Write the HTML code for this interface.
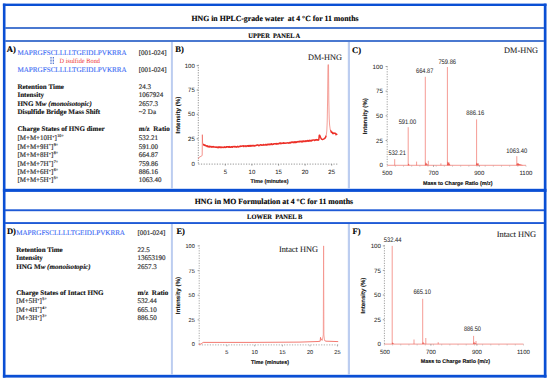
<!DOCTYPE html>
<html><head><meta charset="utf-8"><style>
html,body{margin:0;padding:0;background:#fff;width:550px;height:381px;overflow:hidden;}
svg{display:block;}
</style></head><body>
<svg width="550" height="381" viewBox="0 0 550 381" text-rendering="geometricPrecision">
<rect width="550" height="381" fill="#fff"/>
<rect x="2.9" y="3.6" width="543.6" height="2.4" fill="#0a4fd4"/>
<rect x="2.9" y="3.6" width="2.6" height="374.0" fill="#0a4fd4"/>
<rect x="543.8" y="3.6" width="2.7" height="374.0" fill="#0a4fd4"/>
<rect x="2.9" y="374.8" width="543.6" height="2.8" fill="#0a4fd4"/>
<rect x="2.9" y="188.8" width="543.6" height="3.1" fill="#0a4fd4"/>
<rect x="5" y="27.0" width="539" height="2.0" fill="#4a78d0"/>
<rect x="5" y="40.0" width="539" height="2.0" fill="#4a78d0"/>
<rect x="5" y="209.3" width="539" height="1.9" fill="#1f5ad6"/>
<rect x="5" y="222.1" width="539" height="1.9" fill="#1f5ad6"/>
<rect x="170.9" y="42" width="2.0" height="146.8" fill="#bccdf0"/>
<rect x="347.8" y="42" width="2.2" height="146.8" fill="#bccdf0"/>
<rect x="170.9" y="224" width="2.0" height="150.8" fill="#bccdf0"/>
<rect x="347.8" y="224" width="2.2" height="150.8" fill="#bccdf0"/>
<text x="275" y="21.0" font-family="Liberation Serif" font-size="7.8" font-weight="bold" font-style="normal" fill="#000" text-anchor="middle" textLength="167" lengthAdjust="spacingAndGlyphs" stroke="#000" stroke-width="0.12" >HNG in HPLC-grade water&#160; at 4 °C for 11 months</text>
<text x="274.2" y="37.5" font-family="Liberation Serif" font-size="6.8" font-weight="bold" font-style="normal" fill="#000" text-anchor="middle" textLength="51.8" lengthAdjust="spacingAndGlyphs" stroke="#000" stroke-width="0.12" >UPPER&#160; PANEL A</text>
<text x="273.9" y="203.7" font-family="Liberation Serif" font-size="7.8" font-weight="bold" font-style="normal" fill="#000" text-anchor="middle" textLength="158.3" lengthAdjust="spacingAndGlyphs" stroke="#000" stroke-width="0.12" >HNG in MO Formulation at 4 °C for 11 months</text>
<text x="274.7" y="219.2" font-family="Liberation Serif" font-size="6.9" font-weight="bold" font-style="normal" fill="#000" text-anchor="middle" textLength="55.2" lengthAdjust="spacingAndGlyphs" stroke="#000" stroke-width="0.12" >LOWER&#160; PANEL B</text>
<text x="6.7" y="52.2" font-family="Liberation Serif" font-size="8.6" font-weight="bold" font-style="normal" fill="#000" text-anchor="start" stroke="#000" stroke-width="0.12" >A)</text>
<text x="175.3" y="51.6" font-family="Liberation Serif" font-size="8.6" font-weight="bold" font-style="normal" fill="#000" text-anchor="start" stroke="#000" stroke-width="0.12" >B)</text>
<text x="352.1" y="52.7" font-family="Liberation Serif" font-size="8.6" font-weight="bold" font-style="normal" fill="#000" text-anchor="start" stroke="#000" stroke-width="0.12" >C)</text>
<text x="6.9" y="234.0" font-family="Liberation Serif" font-size="8.6" font-weight="bold" font-style="normal" fill="#000" text-anchor="start" stroke="#000" stroke-width="0.12" >D)</text>
<text x="176.4" y="234.0" font-family="Liberation Serif" font-size="8.6" font-weight="bold" font-style="normal" fill="#000" text-anchor="start" stroke="#000" stroke-width="0.12" >E)</text>
<text x="352.6" y="234.0" font-family="Liberation Serif" font-size="8.6" font-weight="bold" font-style="normal" fill="#000" text-anchor="start" stroke="#000" stroke-width="0.12" >F)</text>
<text x="17.4" y="54.6" font-family="Liberation Serif" font-size="7.2" font-weight="normal" font-style="normal" fill="#3868f4" text-anchor="start" textLength="109.3" lengthAdjust="spacingAndGlyphs" stroke="#3868f4" stroke-width="0.1" >MAPRGFSCLLLLTGEIDLPVKRRA</text>
<text x="138.8" y="54.8" font-family="Liberation Serif" font-size="7" font-weight="normal" font-style="normal" fill="#333" text-anchor="start" textLength="27.8" lengthAdjust="spacingAndGlyphs" stroke="#333" stroke-width="0.18" >[001-024]</text>
<text x="17.4" y="71.9" font-family="Liberation Serif" font-size="7.2" font-weight="normal" font-style="normal" fill="#3868f4" text-anchor="start" textLength="109.3" lengthAdjust="spacingAndGlyphs" stroke="#3868f4" stroke-width="0.1" >MAPRGFSCLLLLTGEIDLPVKRRA</text>
<text x="138.8" y="71.6" font-family="Liberation Serif" font-size="7" font-weight="normal" font-style="normal" fill="#333" text-anchor="start" textLength="27.8" lengthAdjust="spacingAndGlyphs" stroke="#333" stroke-width="0.18" >[001-024]</text>
<rect x="50.45" y="57.0" width="1.1" height="0.9" fill="#2a56c4"/>
<rect x="50.45" y="58.5" width="1.1" height="0.9" fill="#2a56c4"/>
<rect x="50.45" y="60.0" width="1.1" height="0.9" fill="#2a56c4"/>
<rect x="50.45" y="61.5" width="1.1" height="0.9" fill="#2a56c4"/>
<rect x="50.45" y="63.0" width="1.1" height="0.9" fill="#2a56c4"/>
<rect x="52.75" y="57.0" width="1.1" height="0.9" fill="#2a56c4"/>
<rect x="52.75" y="58.5" width="1.1" height="0.9" fill="#2a56c4"/>
<rect x="52.75" y="60.0" width="1.1" height="0.9" fill="#2a56c4"/>
<rect x="52.75" y="61.5" width="1.1" height="0.9" fill="#2a56c4"/>
<rect x="52.75" y="63.0" width="1.1" height="0.9" fill="#2a56c4"/>
<text x="59.5" y="62.5" font-family="Liberation Serif" font-size="6.6" font-weight="normal" font-style="normal" fill="#f04646" text-anchor="start" textLength="40.5" lengthAdjust="spacingAndGlyphs" stroke="#f04646" stroke-width="0.04" >D isulfide Bond</text>
<text x="17.4" y="88.6" font-family="Liberation Serif" font-size="7.05" font-weight="bold" font-style="normal" fill="#111" text-anchor="start" stroke="#111" stroke-width="0.12" >Retention Time</text>
<text x="138.8" y="88.6" font-family="Liberation Serif" font-size="7" font-weight="normal" font-style="normal" fill="#333" text-anchor="start" stroke="#333" stroke-width="0.18" >24.3</text>
<text x="17.4" y="97.13" font-family="Liberation Serif" font-size="7.05" font-weight="bold" font-style="normal" fill="#111" text-anchor="start" stroke="#111" stroke-width="0.12" >Intensity</text>
<text x="138.8" y="97.13" font-family="Liberation Serif" font-size="7" font-weight="normal" font-style="normal" fill="#333" text-anchor="start" stroke="#333" stroke-width="0.18" >1067924</text>
<text x="17.4" y="105.66" font-family="Liberation Serif" font-size="7.05" font-weight="bold" font-style="normal" fill="#111" text-anchor="start" stroke="#111" stroke-width="0.12" >HNG M<tspan font-style="italic">w (monoisotopic)</tspan></text>
<text x="138.8" y="105.66" font-family="Liberation Serif" font-size="7" font-weight="normal" font-style="normal" fill="#333" text-anchor="start" stroke="#333" stroke-width="0.18" >2657.3</text>
<text x="17.4" y="114.19" font-family="Liberation Serif" font-size="7.05" font-weight="bold" font-style="normal" fill="#111" text-anchor="start" stroke="#111" stroke-width="0.12" >Disulfide Bridge Mass Shift</text>
<text x="138.8" y="114.19" font-family="Liberation Serif" font-size="7" font-weight="normal" font-style="normal" fill="#333" text-anchor="start" stroke="#333" stroke-width="0.18" >~2 Da</text>
<text x="17.4" y="131.3" font-family="Liberation Serif" font-size="7.05" font-weight="bold" font-style="normal" fill="#111" text-anchor="start" stroke="#111" stroke-width="0.12" >Charge States of HNG dimer</text>
<text x="138.8" y="131.4" font-family="Liberation Serif" font-size="7.05" font-weight="bold" font-style="normal" fill="#111" text-anchor="start" stroke="#111" stroke-width="0.12" >m/z&#160; Ratio</text>
<text x="17.4" y="140.2" font-family="Liberation Serif" font-size="7" fill="#333" stroke="#333" stroke-width="0.18">[M+M+10H<tspan font-size="4" dy="-2.4">+</tspan><tspan dy="2.4">]</tspan><tspan font-size="4.2" dx="0.5" dy="-3.0">10+</tspan></text>
<text x="138.8" y="140.2" font-family="Liberation Serif" font-size="7" font-weight="normal" font-style="normal" fill="#333" text-anchor="start" stroke="#333" stroke-width="0.18" >532.21</text>
<text x="17.4" y="148.64999999999998" font-family="Liberation Serif" font-size="7" fill="#333" stroke="#333" stroke-width="0.18">[M+M+9H<tspan font-size="4" dy="-2.4">+</tspan><tspan dy="2.4">]</tspan><tspan font-size="4.2" dx="0.5" dy="-3.0">9+</tspan></text>
<text x="138.8" y="148.64999999999998" font-family="Liberation Serif" font-size="7" font-weight="normal" font-style="normal" fill="#333" text-anchor="start" stroke="#333" stroke-width="0.18" >591.00</text>
<text x="17.4" y="157.1" font-family="Liberation Serif" font-size="7" fill="#333" stroke="#333" stroke-width="0.18">[M+M+8H<tspan font-size="4" dy="-2.4">+</tspan><tspan dy="2.4">]</tspan><tspan font-size="4.2" dx="0.5" dy="-3.0">8+</tspan></text>
<text x="138.8" y="157.1" font-family="Liberation Serif" font-size="7" font-weight="normal" font-style="normal" fill="#333" text-anchor="start" stroke="#333" stroke-width="0.18" >664.87</text>
<text x="17.4" y="165.54999999999998" font-family="Liberation Serif" font-size="7" fill="#333" stroke="#333" stroke-width="0.18">[M+M+7H<tspan font-size="4" dy="-2.4">+</tspan><tspan dy="2.4">]</tspan><tspan font-size="4.2" dx="0.5" dy="-3.0">7+</tspan></text>
<text x="138.8" y="165.54999999999998" font-family="Liberation Serif" font-size="7" font-weight="normal" font-style="normal" fill="#333" text-anchor="start" stroke="#333" stroke-width="0.18" >759.86</text>
<text x="17.4" y="174.0" font-family="Liberation Serif" font-size="7" fill="#333" stroke="#333" stroke-width="0.18">[M+M+6H<tspan font-size="4" dy="-2.4">+</tspan><tspan dy="2.4">]</tspan><tspan font-size="4.2" dx="0.5" dy="-3.0">6+</tspan></text>
<text x="138.8" y="174.0" font-family="Liberation Serif" font-size="7" font-weight="normal" font-style="normal" fill="#333" text-anchor="start" stroke="#333" stroke-width="0.18" >886.16</text>
<text x="17.4" y="182.45" font-family="Liberation Serif" font-size="7" fill="#333" stroke="#333" stroke-width="0.18">[M+M+5H<tspan font-size="4" dy="-2.4">+</tspan><tspan dy="2.4">]</tspan><tspan font-size="4.2" dx="0.5" dy="-3.0">5+</tspan></text>
<text x="138.8" y="182.45" font-family="Liberation Serif" font-size="7" font-weight="normal" font-style="normal" fill="#333" text-anchor="start" stroke="#333" stroke-width="0.18" >1063.40</text>
<text x="16.2" y="234.7" font-family="Liberation Serif" font-size="7.2" font-weight="normal" font-style="normal" fill="#3868f4" text-anchor="start" textLength="108.8" lengthAdjust="spacingAndGlyphs" stroke="#3868f4" stroke-width="0.1" >MAPRGFSCLLLLTGEIDLPVKRRA</text>
<text x="137.4" y="234.6" font-family="Liberation Serif" font-size="7" font-weight="normal" font-style="normal" fill="#333" text-anchor="start" textLength="28.0" lengthAdjust="spacingAndGlyphs" stroke="#333" stroke-width="0.18" >[001-024]</text>
<text x="16.2" y="251.7" font-family="Liberation Serif" font-size="7.05" font-weight="bold" font-style="normal" fill="#111" text-anchor="start" stroke="#111" stroke-width="0.12" >Retention Time</text>
<text x="137.4" y="251.7" font-family="Liberation Serif" font-size="7" font-weight="normal" font-style="normal" fill="#333" text-anchor="start" stroke="#333" stroke-width="0.18" >22.5</text>
<text x="16.2" y="260.2" font-family="Liberation Serif" font-size="7.05" font-weight="bold" font-style="normal" fill="#111" text-anchor="start" stroke="#111" stroke-width="0.12" >Intensity</text>
<text x="137.4" y="260.2" font-family="Liberation Serif" font-size="7" font-weight="normal" font-style="normal" fill="#333" text-anchor="start" stroke="#333" stroke-width="0.18" >13653190</text>
<text x="16.2" y="268.7" font-family="Liberation Serif" font-size="7.05" font-weight="bold" font-style="normal" fill="#111" text-anchor="start" stroke="#111" stroke-width="0.12" >HNG M<tspan font-style="italic">w (monoisotopic)</tspan></text>
<text x="137.4" y="268.7" font-family="Liberation Serif" font-size="7" font-weight="normal" font-style="normal" fill="#333" text-anchor="start" stroke="#333" stroke-width="0.18" >2657.3</text>
<text x="16.2" y="294.7" font-family="Liberation Serif" font-size="7.05" font-weight="bold" font-style="normal" fill="#111" text-anchor="start" stroke="#111" stroke-width="0.12" >Charge States of Intact HNG</text>
<text x="137.4" y="294.7" font-family="Liberation Serif" font-size="7.05" font-weight="bold" font-style="normal" fill="#111" text-anchor="start" stroke="#111" stroke-width="0.12" >m/z&#160; Ratio</text>
<text x="16.2" y="303.3" font-family="Liberation Serif" font-size="7" fill="#333" stroke="#333" stroke-width="0.18">[M+5H<tspan font-size="4" dy="-2.4">+</tspan><tspan dy="2.4">]</tspan><tspan font-size="4.2" dx="0.5" dy="-3.0">5+</tspan></text>
<text x="137.4" y="303.3" font-family="Liberation Serif" font-size="7" font-weight="normal" font-style="normal" fill="#333" text-anchor="start" stroke="#333" stroke-width="0.18" >532.44</text>
<text x="16.2" y="311.75" font-family="Liberation Serif" font-size="7" fill="#333" stroke="#333" stroke-width="0.18">[M+4H<tspan font-size="4" dy="-2.4">+</tspan><tspan dy="2.4">]</tspan><tspan font-size="4.2" dx="0.5" dy="-3.0">4+</tspan></text>
<text x="137.4" y="311.75" font-family="Liberation Serif" font-size="7" font-weight="normal" font-style="normal" fill="#333" text-anchor="start" stroke="#333" stroke-width="0.18" >665.10</text>
<text x="16.2" y="320.2" font-family="Liberation Serif" font-size="7" fill="#333" stroke="#333" stroke-width="0.18">[M+3H<tspan font-size="4" dy="-2.4">+</tspan><tspan dy="2.4">]</tspan><tspan font-size="4.2" dx="0.5" dy="-3.0">3+</tspan></text>
<text x="137.4" y="320.2" font-family="Liberation Serif" font-size="7" font-weight="normal" font-style="normal" fill="#333" text-anchor="start" stroke="#333" stroke-width="0.18" >886.50</text>
<line x1="198.3" y1="64.8" x2="198.3" y2="164.1" stroke="#7a7a7a" stroke-width="0.9" stroke-dasharray="1.1 1.4"/>
<line x1="196.70000000000002" y1="65.7" x2="198.3" y2="65.7" stroke="#7a7a7a" stroke-width="0.8"/>
<line x1="196.70000000000002" y1="90.0" x2="198.3" y2="90.0" stroke="#7a7a7a" stroke-width="0.8"/>
<line x1="196.70000000000002" y1="114.3" x2="198.3" y2="114.3" stroke="#7a7a7a" stroke-width="0.8"/>
<line x1="196.70000000000002" y1="138.8" x2="198.3" y2="138.8" stroke="#7a7a7a" stroke-width="0.8"/>
<line x1="198.3" y1="164.1" x2="338.5" y2="164.1" stroke="#888" stroke-width="0.9" stroke-dasharray="1.2 1.45"/>
<line x1="225.3" y1="164.1" x2="225.3" y2="165.6" stroke="#7a7a7a" stroke-width="0.8"/>
<line x1="251.9" y1="164.1" x2="251.9" y2="165.6" stroke="#7a7a7a" stroke-width="0.8"/>
<line x1="278.6" y1="164.1" x2="278.6" y2="165.6" stroke="#7a7a7a" stroke-width="0.8"/>
<line x1="305.1" y1="164.1" x2="305.1" y2="165.6" stroke="#7a7a7a" stroke-width="0.8"/>
<line x1="331.7" y1="164.1" x2="331.7" y2="165.6" stroke="#7a7a7a" stroke-width="0.8"/>
<text x="194.8" y="67.86" font-family="Liberation Sans" font-size="6.0" font-weight="normal" font-style="normal" fill="#2a2a2a" text-anchor="end" stroke="#2a2a2a" stroke-width="0.05" >100</text>
<text x="194.8" y="92.16" font-family="Liberation Sans" font-size="6.0" font-weight="normal" font-style="normal" fill="#2a2a2a" text-anchor="end" stroke="#2a2a2a" stroke-width="0.05" >75</text>
<text x="194.8" y="116.46" font-family="Liberation Sans" font-size="6.0" font-weight="normal" font-style="normal" fill="#2a2a2a" text-anchor="end" stroke="#2a2a2a" stroke-width="0.05" >50</text>
<text x="194.8" y="140.96" font-family="Liberation Sans" font-size="6.0" font-weight="normal" font-style="normal" fill="#2a2a2a" text-anchor="end" stroke="#2a2a2a" stroke-width="0.05" >25</text>
<text x="194.8" y="165.56" font-family="Liberation Sans" font-size="6.0" font-weight="normal" font-style="normal" fill="#2a2a2a" text-anchor="end" stroke="#2a2a2a" stroke-width="0.05" >0</text>
<text x="225.3" y="173.76" font-family="Liberation Sans" font-size="6.0" font-weight="normal" font-style="normal" fill="#2a2a2a" text-anchor="middle" stroke="#2a2a2a" stroke-width="0.05" >5</text>
<text x="251.9" y="173.76" font-family="Liberation Sans" font-size="6.0" font-weight="normal" font-style="normal" fill="#2a2a2a" text-anchor="middle" stroke="#2a2a2a" stroke-width="0.05" >10</text>
<text x="278.6" y="173.76" font-family="Liberation Sans" font-size="6.0" font-weight="normal" font-style="normal" fill="#2a2a2a" text-anchor="middle" stroke="#2a2a2a" stroke-width="0.05" >15</text>
<text x="305.1" y="173.76" font-family="Liberation Sans" font-size="6.0" font-weight="normal" font-style="normal" fill="#2a2a2a" text-anchor="middle" stroke="#2a2a2a" stroke-width="0.05" >20</text>
<text x="331.7" y="173.76" font-family="Liberation Sans" font-size="6.0" font-weight="normal" font-style="normal" fill="#2a2a2a" text-anchor="middle" stroke="#2a2a2a" stroke-width="0.05" >25</text>
<text x="269.6" y="182.6" font-family="Liberation Sans" font-size="5.5" font-weight="bold" font-style="normal" fill="#111" text-anchor="middle" textLength="38" lengthAdjust="spacingAndGlyphs" stroke="#111" stroke-width="0.12" >Time (minutes)</text>
<text x="0" y="0" transform="translate(178.2,115.1) rotate(-90)" font-family="Liberation Sans" font-size="6.2" font-weight="bold" fill="#111" stroke="#111" stroke-width="0.1" text-anchor="middle" dominant-baseline="central" textLength="36.8" lengthAdjust="spacingAndGlyphs">Intensity (%)</text>
<text x="308" y="60.4" font-family="Liberation Serif" font-size="8.4" font-weight="normal" font-style="normal" fill="#222" text-anchor="start" textLength="34" lengthAdjust="spacingAndGlyphs" stroke="#222" stroke-width="0.08" >DM-HNG</text>
<path d="M198.30,159.00 L199.00,157.60 L199.90,156.80 L201.00,156.40 L201.80,155.90 L202.20,155.20 L202.35,134.70 L202.60,143.00 L203.00,144.60" fill="none" stroke="#f06a62" stroke-width="0.8" stroke-linejoin="round" opacity="0.9"/>
<path d="M203.00,144.44 L203.30,144.43 L203.60,145.02 L203.90,144.64 L204.20,145.19 L204.50,145.18 L204.80,145.04 L205.10,145.59 L205.40,145.30 L205.70,145.80 L206.00,145.61 L206.30,145.68 L206.60,146.03 L206.90,146.44 L207.20,145.86 L207.50,146.00 L207.80,146.41 L208.10,146.75 L208.40,146.47 L208.70,146.36 L209.00,146.93 L209.30,146.14 L209.60,146.92 L209.90,146.46 L210.20,146.38 L210.50,146.41 L210.80,146.63 L211.10,147.13 L211.40,146.61 L211.71,146.99 L212.01,147.05 L212.32,146.83 L212.63,147.00 L212.94,146.58 L213.24,146.59 L213.55,146.74 L213.86,147.18 L214.16,146.96 L214.47,146.88 L214.78,147.13 L215.09,147.03 L215.39,146.91 L215.70,147.36 L216.01,147.29 L216.31,146.90 L216.62,147.21 L216.93,147.18 L217.24,147.51 L217.54,147.39 L217.85,147.01 L218.16,147.65 L218.46,146.88 L218.77,147.17 L219.08,147.49 L219.39,146.96 L219.69,147.28 L220.00,146.89 L220.30,147.44 L220.60,147.52 L220.90,147.34 L221.20,147.60 L221.50,147.08 L221.80,147.42 L222.10,147.31 L222.40,147.29 L222.70,147.17 L223.00,147.51 L223.30,147.59 L223.60,147.16 L223.90,147.32 L224.20,146.76 L224.50,147.33 L224.80,147.27 L225.10,147.57 L225.40,147.41 L225.70,146.92 L226.00,147.00 L226.30,147.24 L226.60,146.65 L226.90,147.04 L227.20,146.76 L227.50,146.71 L227.80,146.64 L228.10,147.27 L228.40,146.69 L228.70,146.78 L229.00,146.90 L229.30,147.32 L229.60,146.60 L229.90,146.92 L230.20,147.00 L230.50,147.30 L230.80,147.23 L231.10,147.26 L231.40,146.72 L231.70,146.83 L232.00,146.77 L232.30,147.24 L232.60,147.29 L232.90,146.56 L233.20,146.57 L233.50,146.61 L233.80,146.60 L234.10,146.82 L234.40,146.90 L234.70,146.60 L235.00,146.35 L235.30,146.71 L235.60,146.65 L235.90,146.81 L236.20,147.14 L236.50,146.88 L236.80,146.71 L237.10,146.78 L237.40,146.81 L237.70,146.24 L238.00,146.98 L238.30,146.85 L238.60,146.92 L238.90,146.83 L239.20,146.45 L239.50,146.44 L239.80,146.16 L240.10,146.61 L240.40,146.08 L240.70,146.07 L241.00,146.18 L241.30,146.12 L241.60,146.26 L241.90,145.98 L242.20,145.92 L242.50,146.04 L242.80,145.97 L243.10,146.19 L243.40,145.87 L243.70,146.61 L244.00,146.36 L244.30,145.93 L244.60,146.00 L244.90,146.07 L245.20,146.07 L245.50,145.83 L245.80,146.47 L246.10,146.58 L246.40,146.09 L246.70,146.08 L247.00,145.71 L247.30,145.70 L247.60,145.90 L247.90,145.81 L248.20,146.30 L248.50,145.69 L248.80,145.54 L249.10,146.36 L249.40,145.96 L249.70,145.60 L250.00,145.94 L250.30,145.45 L250.61,145.88 L250.91,146.26 L251.21,146.13 L251.52,145.96 L251.82,145.54 L252.12,145.61 L252.42,145.41 L252.73,145.93 L253.03,145.69 L253.33,145.88 L253.64,145.46 L253.94,145.34 L254.24,145.84 L254.55,145.97 L254.85,145.83 L255.15,145.76 L255.45,145.75 L255.76,145.66 L256.06,145.17 L256.36,145.41 L256.67,145.24 L256.97,144.92 L257.27,144.89 L257.58,145.10 L257.88,145.05 L258.18,145.42 L258.48,145.63 L258.79,145.15 L259.09,145.57 L259.39,145.59 L259.70,145.53 L260.00,144.98 L260.30,144.82 L260.61,144.81 L260.91,144.75 L261.21,144.74 L261.52,145.09 L261.82,145.31 L262.12,145.24 L262.42,144.89 L262.73,145.02 L263.03,145.13 L263.33,144.46 L263.64,144.95 L263.94,145.15 L264.24,145.01 L264.55,144.96 L264.85,144.69 L265.15,144.40 L265.45,144.92 L265.76,144.49 L266.06,144.89 L266.36,145.02 L266.67,144.47 L266.97,144.45 L267.27,144.92 L267.58,144.70 L267.88,144.17 L268.18,144.11 L268.48,144.11 L268.79,144.76 L269.09,144.65 L269.39,144.03 L269.70,144.62 L270.00,144.73 L270.30,144.42 L270.61,144.11 L270.91,144.27 L271.21,143.86 L271.52,143.73 L271.82,144.57 L272.12,144.25 L272.42,144.12 L272.73,144.46 L273.03,143.98 L273.33,144.35 L273.64,144.28 L273.94,143.71 L274.24,143.72 L274.55,143.73 L274.85,143.65 L275.15,143.94 L275.45,143.62 L275.76,143.74 L276.06,143.45 L276.36,144.13 L276.67,143.60 L276.97,143.67 L277.27,143.76 L277.58,144.02 L277.88,143.56 L278.18,143.98 L278.48,143.58 L278.79,143.58 L279.09,143.55 L279.39,143.07 L279.70,143.42 L280.00,143.16 L280.30,142.98 L280.61,143.67 L280.91,143.08 L281.21,143.32 L281.52,143.52 L281.82,143.35 L282.12,143.11 L282.42,143.26 L282.73,143.27 L283.03,143.45 L283.33,142.81 L283.64,143.20 L283.94,142.89 L284.24,142.89 L284.55,143.31 L284.85,143.04 L285.15,143.07 L285.45,143.22 L285.76,143.33 L286.06,142.88 L286.36,143.01 L286.67,142.89 L286.97,142.87 L287.27,143.01 L287.58,142.76 L287.88,142.81 L288.18,142.73 L288.48,143.13 L288.79,142.88 L289.09,143.02 L289.39,143.05 L289.70,142.41 L290.00,142.65 L290.30,142.97 L290.60,142.85 L290.90,142.19 L291.20,142.15 L291.50,142.41 L291.80,142.05 L292.10,142.17 L292.40,141.99 L292.70,142.50 L293.00,142.58 L293.30,142.65 L293.60,141.95 L293.90,142.43 L294.20,142.35 L294.50,141.86 L294.80,142.50 L295.10,142.54 L295.40,141.84 L295.70,142.48 L296.00,141.95 L296.30,142.00 L296.60,142.42 L296.90,142.26 L297.20,141.62 L297.50,141.84 L297.80,141.89 L298.10,141.70 L298.40,141.54 L298.70,141.62 L299.00,141.96 L299.30,141.30 L299.60,141.75 L299.90,141.62 L300.20,141.21 L300.50,141.47 L300.80,141.70 L301.10,141.58 L301.40,141.14 L301.70,141.94 L302.00,141.74 L302.30,141.88 L302.60,141.07 L302.90,141.19 L303.20,140.95 L303.50,141.59 L303.80,141.11 L304.10,140.95 L304.40,141.19 L304.70,141.60 L305.00,141.49 L305.30,140.95 L305.60,140.82 L305.90,141.49 L306.20,141.14 L306.50,141.23 L306.80,140.65 L307.10,140.59 L307.40,141.13 L307.70,140.86 L308.00,140.51 L308.30,141.26 L308.60,140.96 L308.90,141.08 L309.20,140.40 L309.50,141.06 L309.80,140.32 L310.10,141.01 L310.40,140.61 L310.70,140.48 L311.00,140.64 L311.30,140.94 L311.60,140.32 L311.90,140.17 L312.20,140.49 L312.50,140.20 L312.80,140.06 L313.10,140.07 L313.40,139.94 L313.70,140.05 L314.00,140.12 L314.30,140.08 L314.60,140.46 L314.90,140.01 L315.20,140.17 L315.50,139.84 L315.80,139.97 L316.10,139.64 L316.40,139.82 L316.70,139.58 L317.00,140.19 L317.30,140.00 L317.60,139.64 L317.90,139.87 L318.20,140.25 L318.50,139.48 L318.80,139.80 L319.10,137.00 L319.30,135.20 L319.70,135.30 L320.50,137.30 L321.50,139.10 L322.50,139.60 L324.00,138.90 L325.50,137.60 L326.20,135.60" fill="none" stroke="#ec3028" stroke-width="1.45" stroke-linejoin="round" opacity="1"/>
<path d="M326.20,135.60 L326.80,131.00 L327.20,122.00 L327.60,100.00 L328.00,64.60 L328.50,64.80 L328.80,100.00 L329.20,118.00 L329.60,125.00 L330.30,130.00" fill="none" stroke="#f28c84" stroke-width="0.85" stroke-linejoin="round" opacity="1"/>
<path d="M330.30,130.57 L330.65,130.48 L331.00,131.19 L331.33,132.20 L331.67,131.81 L332.00,132.41 L332.33,132.89 L332.67,133.57 L333.00,132.57 L333.33,133.60 L333.67,133.52 L334.00,133.54 L334.33,133.30 L334.67,133.36 L335.00,133.00 L335.33,133.30 L335.67,133.36 L336.00,134.73 L336.33,134.06 L336.67,134.09 L337.00,134.90" fill="none" stroke="#ec3028" stroke-width="1.4" stroke-linejoin="round" opacity="1"/>
<line x1="387.2" y1="66.3" x2="387.2" y2="165.3" stroke="#8a8a8a" stroke-width="0.9" stroke-dasharray="1.1 1.4"/>
<line x1="385.59999999999997" y1="66.5" x2="387.2" y2="66.5" stroke="#8a8a8a" stroke-width="0.8"/>
<line x1="385.59999999999997" y1="91.2" x2="387.2" y2="91.2" stroke="#8a8a8a" stroke-width="0.8"/>
<line x1="385.59999999999997" y1="115.8" x2="387.2" y2="115.8" stroke="#8a8a8a" stroke-width="0.8"/>
<line x1="385.59999999999997" y1="140.5" x2="387.2" y2="140.5" stroke="#8a8a8a" stroke-width="0.8"/>
<line x1="387.2" y1="165.3" x2="526" y2="165.3" stroke="#ee5a50" stroke-width="0.7" opacity="0.85"/>
<line x1="387.20" y1="165.60000000000002" x2="387.20" y2="166.60000000000002" stroke="#999" stroke-width="0.6"/>
<line x1="395.36" y1="165.60000000000002" x2="395.36" y2="166.60000000000002" stroke="#999" stroke-width="0.6"/>
<line x1="403.53" y1="165.60000000000002" x2="403.53" y2="166.60000000000002" stroke="#999" stroke-width="0.6"/>
<line x1="411.69" y1="165.60000000000002" x2="411.69" y2="166.60000000000002" stroke="#999" stroke-width="0.6"/>
<line x1="419.86" y1="165.60000000000002" x2="419.86" y2="166.60000000000002" stroke="#999" stroke-width="0.6"/>
<line x1="428.02" y1="165.60000000000002" x2="428.02" y2="166.60000000000002" stroke="#999" stroke-width="0.6"/>
<line x1="436.19" y1="165.60000000000002" x2="436.19" y2="166.60000000000002" stroke="#999" stroke-width="0.6"/>
<line x1="444.35" y1="165.60000000000002" x2="444.35" y2="166.60000000000002" stroke="#999" stroke-width="0.6"/>
<line x1="452.52" y1="165.60000000000002" x2="452.52" y2="166.60000000000002" stroke="#999" stroke-width="0.6"/>
<line x1="460.68" y1="165.60000000000002" x2="460.68" y2="166.60000000000002" stroke="#999" stroke-width="0.6"/>
<line x1="468.85" y1="165.60000000000002" x2="468.85" y2="166.60000000000002" stroke="#999" stroke-width="0.6"/>
<line x1="477.01" y1="165.60000000000002" x2="477.01" y2="166.60000000000002" stroke="#999" stroke-width="0.6"/>
<line x1="485.18" y1="165.60000000000002" x2="485.18" y2="166.60000000000002" stroke="#999" stroke-width="0.6"/>
<line x1="493.34" y1="165.60000000000002" x2="493.34" y2="166.60000000000002" stroke="#999" stroke-width="0.6"/>
<line x1="501.51" y1="165.60000000000002" x2="501.51" y2="166.60000000000002" stroke="#999" stroke-width="0.6"/>
<line x1="509.67" y1="165.60000000000002" x2="509.67" y2="166.60000000000002" stroke="#999" stroke-width="0.6"/>
<line x1="517.84" y1="165.60000000000002" x2="517.84" y2="166.60000000000002" stroke="#999" stroke-width="0.6"/>
<line x1="526.00" y1="165.60000000000002" x2="526.00" y2="166.60000000000002" stroke="#999" stroke-width="0.6"/>
<line x1="433.5" y1="165.3" x2="433.5" y2="166.8" stroke="#8a8a8a" stroke-width="0.8"/>
<line x1="479.3" y1="165.3" x2="479.3" y2="166.8" stroke="#8a8a8a" stroke-width="0.8"/>
<text x="382.9" y="68.732" font-family="Liberation Sans" font-size="6.2" font-weight="normal" font-style="normal" fill="#2a2a2a" text-anchor="end" stroke="#2a2a2a" stroke-width="0.05" >100</text>
<text x="382.9" y="93.432" font-family="Liberation Sans" font-size="6.2" font-weight="normal" font-style="normal" fill="#2a2a2a" text-anchor="end" stroke="#2a2a2a" stroke-width="0.05" >75</text>
<text x="382.9" y="118.032" font-family="Liberation Sans" font-size="6.2" font-weight="normal" font-style="normal" fill="#2a2a2a" text-anchor="end" stroke="#2a2a2a" stroke-width="0.05" >50</text>
<text x="382.9" y="142.732" font-family="Liberation Sans" font-size="6.2" font-weight="normal" font-style="normal" fill="#2a2a2a" text-anchor="end" stroke="#2a2a2a" stroke-width="0.05" >25</text>
<text x="382.9" y="167.332" font-family="Liberation Sans" font-size="6.2" font-weight="normal" font-style="normal" fill="#2a2a2a" text-anchor="end" stroke="#2a2a2a" stroke-width="0.05" >0</text>
<text x="387.3" y="175.06" font-family="Liberation Sans" font-size="6.0" font-weight="normal" font-style="normal" fill="#2a2a2a" text-anchor="middle" stroke="#2a2a2a" stroke-width="0.05" >500</text>
<text x="433.5" y="175.06" font-family="Liberation Sans" font-size="6.0" font-weight="normal" font-style="normal" fill="#2a2a2a" text-anchor="middle" stroke="#2a2a2a" stroke-width="0.05" >700</text>
<text x="479.3" y="175.06" font-family="Liberation Sans" font-size="6.0" font-weight="normal" font-style="normal" fill="#2a2a2a" text-anchor="middle" stroke="#2a2a2a" stroke-width="0.05" >900</text>
<text x="525.9" y="175.06" font-family="Liberation Sans" font-size="6.0" font-weight="normal" font-style="normal" fill="#2a2a2a" text-anchor="middle" stroke="#2a2a2a" stroke-width="0.05" >1100</text>
<text x="457.8" y="184.6" font-family="Liberation Sans" font-size="5.4" font-weight="bold" font-style="normal" fill="#111" text-anchor="middle" textLength="69.6" lengthAdjust="spacingAndGlyphs" stroke="#111" stroke-width="0.12" >Mass to Charge Ratio (m/z)</text>
<text x="0" y="0" transform="translate(366.0,116.2) rotate(-90)" font-family="Liberation Sans" font-size="6.0" font-weight="bold" fill="#111" stroke="#111" stroke-width="0.1" text-anchor="middle" dominant-baseline="central" textLength="35.9" lengthAdjust="spacingAndGlyphs">Intensity (%)</text>
<text x="504.1" y="53.0" font-family="Liberation Serif" font-size="8.4" font-weight="normal" font-style="normal" fill="#222" text-anchor="start" textLength="34" lengthAdjust="spacingAndGlyphs" stroke="#222" stroke-width="0.08" >DM-HNG</text>
<line x1="394.7" y1="159.2" x2="394.7" y2="165.3" stroke="#ee3b2e" stroke-width="1.0" opacity="0.5"/>
<line x1="408.2" y1="127.2" x2="408.2" y2="165.3" stroke="#ee3b2e" stroke-width="1.0" opacity="0.5"/>
<line x1="416.6" y1="161.6" x2="416.6" y2="165.3" stroke="#ee3b2e" stroke-width="1.0" opacity="0.5"/>
<line x1="425.3" y1="76.8" x2="425.3" y2="165.3" stroke="#ee3b2e" stroke-width="1.0" opacity="0.5"/>
<line x1="428.3" y1="160.8" x2="428.3" y2="165.3" stroke="#ee3b2e" stroke-width="1.0" opacity="0.5"/>
<line x1="440.9" y1="163.3" x2="440.9" y2="165.3" stroke="#ee3b2e" stroke-width="1.0" opacity="0.5"/>
<line x1="447.4" y1="67.0" x2="447.4" y2="165.3" stroke="#ee3b2e" stroke-width="1.0" opacity="0.5"/>
<line x1="449.0" y1="162.3" x2="449.0" y2="165.3" stroke="#ee3b2e" stroke-width="1.0" opacity="0.5"/>
<line x1="476.6" y1="119.4" x2="476.6" y2="165.3" stroke="#ee3b2e" stroke-width="1.0" opacity="0.5"/>
<line x1="478.2" y1="163" x2="478.2" y2="165.3" stroke="#ee3b2e" stroke-width="1.0" opacity="0.5"/>
<line x1="516.8" y1="156.2" x2="516.8" y2="165.3" stroke="#ee3b2e" stroke-width="1.0" opacity="0.5"/>
<line x1="518.2" y1="163.2" x2="518.2" y2="165.3" stroke="#ee3b2e" stroke-width="1.0" opacity="0.5"/>
<path d="M407.8,165.3 L408.4,163.5 L409.8,165.3 Z" fill="#e83a30" opacity="0.75"/>
<path d="M425.0,165.3 L425.59999999999997,162.3 L428.2,165.3 Z" fill="#e83a30" opacity="0.75"/>
<path d="M447.0,165.3 L447.59999999999997,161.5 L450.59999999999997,165.3 Z" fill="#e83a30" opacity="0.75"/>
<path d="M476.0,165.3 L476.59999999999997,162.5 L479.0,165.3 Z" fill="#e83a30" opacity="0.75"/>
<path d="M516.4,165.3 L517.0,163.3 L523.3,165.3 Z" fill="#e83a30" opacity="0.75"/>
<text x="388.6" y="154.9" font-family="Liberation Sans" font-size="6.6" font-weight="normal" font-style="normal" fill="#2a2a2a" text-anchor="start" textLength="17.2" lengthAdjust="spacingAndGlyphs" stroke="#2a2a2a" stroke-width="0.06" >532.21</text>
<text x="398.7" y="123.6" font-family="Liberation Sans" font-size="6.6" font-weight="normal" font-style="normal" fill="#2a2a2a" text-anchor="start" textLength="17.4" lengthAdjust="spacingAndGlyphs" stroke="#2a2a2a" stroke-width="0.06" >591.00</text>
<text x="416.0" y="73.0" font-family="Liberation Sans" font-size="6.6" font-weight="normal" font-style="normal" fill="#2a2a2a" text-anchor="start" textLength="17.3" lengthAdjust="spacingAndGlyphs" stroke="#2a2a2a" stroke-width="0.06" >664.87</text>
<text x="438.4" y="63.8" font-family="Liberation Sans" font-size="6.6" font-weight="normal" font-style="normal" fill="#2a2a2a" text-anchor="start" textLength="17.7" lengthAdjust="spacingAndGlyphs" stroke="#2a2a2a" stroke-width="0.06" >759.86</text>
<text x="466.3" y="115.2" font-family="Liberation Sans" font-size="6.6" font-weight="normal" font-style="normal" fill="#2a2a2a" text-anchor="start" textLength="17.9" lengthAdjust="spacingAndGlyphs" stroke="#2a2a2a" stroke-width="0.06" >886.16</text>
<text x="506.2" y="153.0" font-family="Liberation Sans" font-size="6.6" font-weight="normal" font-style="normal" fill="#2a2a2a" text-anchor="start" textLength="21.0" lengthAdjust="spacingAndGlyphs" stroke="#2a2a2a" stroke-width="0.06" >1063.40</text>
<line x1="199.2" y1="245.3" x2="199.2" y2="344.9" stroke="#959595" stroke-width="0.9" stroke-dasharray="1.1 1.4"/>
<line x1="197.6" y1="245.9" x2="199.2" y2="245.9" stroke="#959595" stroke-width="0.8"/>
<line x1="197.6" y1="270.6" x2="199.2" y2="270.6" stroke="#959595" stroke-width="0.8"/>
<line x1="197.6" y1="295.2" x2="199.2" y2="295.2" stroke="#959595" stroke-width="0.8"/>
<line x1="197.6" y1="319.8" x2="199.2" y2="319.8" stroke="#959595" stroke-width="0.8"/>
<line x1="199.2" y1="344.9" x2="338.5" y2="344.9" stroke="#a4a4a4" stroke-width="0.9" stroke-dasharray="1.2 1.45"/>
<line x1="226.9" y1="344.9" x2="226.9" y2="346.4" stroke="#959595" stroke-width="0.8"/>
<line x1="254.7" y1="344.9" x2="254.7" y2="346.4" stroke="#959595" stroke-width="0.8"/>
<line x1="282.4" y1="344.9" x2="282.4" y2="346.4" stroke="#959595" stroke-width="0.8"/>
<line x1="310.0" y1="344.9" x2="310.0" y2="346.4" stroke="#959595" stroke-width="0.8"/>
<line x1="337.4" y1="344.9" x2="337.4" y2="346.4" stroke="#959595" stroke-width="0.8"/>
<text x="194.8" y="247.916" font-family="Liberation Sans" font-size="5.6" font-weight="normal" font-style="normal" fill="#2a2a2a" text-anchor="end" stroke="#2a2a2a" stroke-width="0.05" >100</text>
<text x="194.8" y="272.61600000000004" font-family="Liberation Sans" font-size="5.6" font-weight="normal" font-style="normal" fill="#2a2a2a" text-anchor="end" stroke="#2a2a2a" stroke-width="0.05" >75</text>
<text x="194.8" y="297.216" font-family="Liberation Sans" font-size="5.6" font-weight="normal" font-style="normal" fill="#2a2a2a" text-anchor="end" stroke="#2a2a2a" stroke-width="0.05" >50</text>
<text x="194.8" y="321.81600000000003" font-family="Liberation Sans" font-size="5.6" font-weight="normal" font-style="normal" fill="#2a2a2a" text-anchor="end" stroke="#2a2a2a" stroke-width="0.05" >25</text>
<text x="194.8" y="346.31600000000003" font-family="Liberation Sans" font-size="5.6" font-weight="normal" font-style="normal" fill="#2a2a2a" text-anchor="end" stroke="#2a2a2a" stroke-width="0.05" >0</text>
<text x="226.9" y="354.31600000000003" font-family="Liberation Sans" font-size="5.6" font-weight="normal" font-style="normal" fill="#2a2a2a" text-anchor="middle" stroke="#2a2a2a" stroke-width="0.05" >5</text>
<text x="254.7" y="354.31600000000003" font-family="Liberation Sans" font-size="5.6" font-weight="normal" font-style="normal" fill="#2a2a2a" text-anchor="middle" stroke="#2a2a2a" stroke-width="0.05" >10</text>
<text x="282.4" y="354.31600000000003" font-family="Liberation Sans" font-size="5.6" font-weight="normal" font-style="normal" fill="#2a2a2a" text-anchor="middle" stroke="#2a2a2a" stroke-width="0.05" >15</text>
<text x="310.0" y="354.31600000000003" font-family="Liberation Sans" font-size="5.6" font-weight="normal" font-style="normal" fill="#2a2a2a" text-anchor="middle" stroke="#2a2a2a" stroke-width="0.05" >20</text>
<text x="337.4" y="354.31600000000003" font-family="Liberation Sans" font-size="5.6" font-weight="normal" font-style="normal" fill="#2a2a2a" text-anchor="middle" stroke="#2a2a2a" stroke-width="0.05" >25</text>
<text x="270.0" y="363.6" font-family="Liberation Sans" font-size="5.4" font-weight="bold" font-style="normal" fill="#111" text-anchor="middle" textLength="38" lengthAdjust="spacingAndGlyphs" stroke="#111" stroke-width="0.12" >Time (minutes)</text>
<text x="0" y="0" transform="translate(178.6,295.5) rotate(-90)" font-family="Liberation Sans" font-size="6.1" font-weight="bold" fill="#111" stroke="#111" stroke-width="0.1" text-anchor="middle" dominant-baseline="central" textLength="37.3" lengthAdjust="spacingAndGlyphs">Intensity (%)</text>
<text x="278.9" y="252.0" font-family="Liberation Serif" font-size="8.5" font-weight="normal" font-style="normal" fill="#222" text-anchor="start" textLength="39.1" lengthAdjust="spacingAndGlyphs" stroke="#222" stroke-width="0.08" >Intact HNG</text>
<path d="M198.60,344.40 L201.30,344.00 L202.40,342.80 L203.20,342.40 L204.00,342.40 L250.00,342.40 L300.00,342.10 L318.00,341.50 L320.20,341.20 L320.50,337.40 L321.00,339.30 L322.30,340.30" fill="none" stroke="#f06a60" stroke-width="0.9" stroke-linejoin="round" opacity="1"/>
<path d="M322.30,340.30 L323.30,335.00 L323.60,245.90 L323.90,335.00 L324.60,340.60" fill="none" stroke="#f4948c" stroke-width="0.85" stroke-linejoin="round" opacity="1"/>
<path d="M324.60,340.60 L326.00,341.20 L330.00,341.30 L338.20,341.60" fill="none" stroke="#f06a60" stroke-width="0.9" stroke-linejoin="round" opacity="1"/>
<line x1="384.4" y1="245.3" x2="384.4" y2="344.1" stroke="#8a8a8a" stroke-width="0.9" stroke-dasharray="1.1 1.4"/>
<line x1="382.79999999999995" y1="245.9" x2="384.4" y2="245.9" stroke="#8a8a8a" stroke-width="0.8"/>
<line x1="382.79999999999995" y1="270.4" x2="384.4" y2="270.4" stroke="#8a8a8a" stroke-width="0.8"/>
<line x1="382.79999999999995" y1="295.0" x2="384.4" y2="295.0" stroke="#8a8a8a" stroke-width="0.8"/>
<line x1="382.79999999999995" y1="319.7" x2="384.4" y2="319.7" stroke="#8a8a8a" stroke-width="0.8"/>
<line x1="384.4" y1="344.1" x2="523.5" y2="344.1" stroke="#ee5a50" stroke-width="0.7" opacity="0.85"/>
<line x1="384.40" y1="344.40000000000003" x2="384.40" y2="345.40000000000003" stroke="#999" stroke-width="0.6"/>
<line x1="392.58" y1="344.40000000000003" x2="392.58" y2="345.40000000000003" stroke="#999" stroke-width="0.6"/>
<line x1="400.76" y1="344.40000000000003" x2="400.76" y2="345.40000000000003" stroke="#999" stroke-width="0.6"/>
<line x1="408.95" y1="344.40000000000003" x2="408.95" y2="345.40000000000003" stroke="#999" stroke-width="0.6"/>
<line x1="417.13" y1="344.40000000000003" x2="417.13" y2="345.40000000000003" stroke="#999" stroke-width="0.6"/>
<line x1="425.31" y1="344.40000000000003" x2="425.31" y2="345.40000000000003" stroke="#999" stroke-width="0.6"/>
<line x1="433.49" y1="344.40000000000003" x2="433.49" y2="345.40000000000003" stroke="#999" stroke-width="0.6"/>
<line x1="441.68" y1="344.40000000000003" x2="441.68" y2="345.40000000000003" stroke="#999" stroke-width="0.6"/>
<line x1="449.86" y1="344.40000000000003" x2="449.86" y2="345.40000000000003" stroke="#999" stroke-width="0.6"/>
<line x1="458.04" y1="344.40000000000003" x2="458.04" y2="345.40000000000003" stroke="#999" stroke-width="0.6"/>
<line x1="466.22" y1="344.40000000000003" x2="466.22" y2="345.40000000000003" stroke="#999" stroke-width="0.6"/>
<line x1="474.41" y1="344.40000000000003" x2="474.41" y2="345.40000000000003" stroke="#999" stroke-width="0.6"/>
<line x1="482.59" y1="344.40000000000003" x2="482.59" y2="345.40000000000003" stroke="#999" stroke-width="0.6"/>
<line x1="490.77" y1="344.40000000000003" x2="490.77" y2="345.40000000000003" stroke="#999" stroke-width="0.6"/>
<line x1="498.95" y1="344.40000000000003" x2="498.95" y2="345.40000000000003" stroke="#999" stroke-width="0.6"/>
<line x1="507.14" y1="344.40000000000003" x2="507.14" y2="345.40000000000003" stroke="#999" stroke-width="0.6"/>
<line x1="515.32" y1="344.40000000000003" x2="515.32" y2="345.40000000000003" stroke="#999" stroke-width="0.6"/>
<line x1="523.50" y1="344.40000000000003" x2="523.50" y2="345.40000000000003" stroke="#999" stroke-width="0.6"/>
<line x1="430.9" y1="344.1" x2="430.9" y2="345.6" stroke="#8a8a8a" stroke-width="0.8"/>
<line x1="476.9" y1="344.1" x2="476.9" y2="345.6" stroke="#8a8a8a" stroke-width="0.8"/>
<text x="381.0" y="248.132" font-family="Liberation Sans" font-size="6.2" font-weight="normal" font-style="normal" fill="#2a2a2a" text-anchor="end" stroke="#2a2a2a" stroke-width="0.05" >100</text>
<text x="381.0" y="272.632" font-family="Liberation Sans" font-size="6.2" font-weight="normal" font-style="normal" fill="#2a2a2a" text-anchor="end" stroke="#2a2a2a" stroke-width="0.05" >75</text>
<text x="381.0" y="297.232" font-family="Liberation Sans" font-size="6.2" font-weight="normal" font-style="normal" fill="#2a2a2a" text-anchor="end" stroke="#2a2a2a" stroke-width="0.05" >50</text>
<text x="381.0" y="321.932" font-family="Liberation Sans" font-size="6.2" font-weight="normal" font-style="normal" fill="#2a2a2a" text-anchor="end" stroke="#2a2a2a" stroke-width="0.05" >25</text>
<text x="381.0" y="346.33200000000005" font-family="Liberation Sans" font-size="6.2" font-weight="normal" font-style="normal" fill="#2a2a2a" text-anchor="end" stroke="#2a2a2a" stroke-width="0.05" >0</text>
<text x="384.9" y="354.26000000000005" font-family="Liberation Sans" font-size="6.0" font-weight="normal" font-style="normal" fill="#2a2a2a" text-anchor="middle" stroke="#2a2a2a" stroke-width="0.05" >500</text>
<text x="430.9" y="354.26000000000005" font-family="Liberation Sans" font-size="6.0" font-weight="normal" font-style="normal" fill="#2a2a2a" text-anchor="middle" stroke="#2a2a2a" stroke-width="0.05" >700</text>
<text x="476.9" y="354.26000000000005" font-family="Liberation Sans" font-size="6.0" font-weight="normal" font-style="normal" fill="#2a2a2a" text-anchor="middle" stroke="#2a2a2a" stroke-width="0.05" >900</text>
<text x="523.4" y="354.26000000000005" font-family="Liberation Sans" font-size="6.0" font-weight="normal" font-style="normal" fill="#2a2a2a" text-anchor="middle" stroke="#2a2a2a" stroke-width="0.05" >1100</text>
<text x="455.4" y="363.0" font-family="Liberation Sans" font-size="5.4" font-weight="bold" font-style="normal" fill="#111" text-anchor="middle" textLength="69.4" lengthAdjust="spacingAndGlyphs" stroke="#111" stroke-width="0.12" >Mass to Charge Ratio (m/z)</text>
<text x="0" y="0" transform="translate(363.8,295.6) rotate(-90)" font-family="Liberation Sans" font-size="6.0" font-weight="bold" fill="#111" stroke="#111" stroke-width="0.1" text-anchor="middle" dominant-baseline="central" textLength="35.9" lengthAdjust="spacingAndGlyphs">Intensity (%)</text>
<text x="496.7" y="237.1" font-family="Liberation Serif" font-size="8.5" font-weight="normal" font-style="normal" fill="#222" text-anchor="start" textLength="39.5" lengthAdjust="spacingAndGlyphs" stroke="#222" stroke-width="0.08" >Intact HNG</text>
<line x1="392.2" y1="245.9" x2="392.2" y2="344.1" stroke="#ee3b2e" stroke-width="1.0" opacity="0.5"/>
<line x1="414.0" y1="339.5" x2="414.0" y2="344.1" stroke="#ee3b2e" stroke-width="1.0" opacity="0.5"/>
<line x1="422.7" y1="298.8" x2="422.7" y2="344.1" stroke="#ee3b2e" stroke-width="1.0" opacity="0.5"/>
<line x1="425.8" y1="338.0" x2="425.8" y2="344.1" stroke="#ee3b2e" stroke-width="1.0" opacity="0.5"/>
<line x1="438.2" y1="342.2" x2="438.2" y2="344.1" stroke="#ee3b2e" stroke-width="1.0" opacity="0.5"/>
<line x1="473.6" y1="335.9" x2="473.6" y2="344.1" stroke="#ee3b2e" stroke-width="1.0" opacity="0.5"/>
<line x1="476.0" y1="341.0" x2="476.0" y2="344.1" stroke="#ee3b2e" stroke-width="1.0" opacity="0.5"/>
<path d="M391.8,344.1 L392.4,342.3 L394.2,344.1 Z" fill="#e83a30" opacity="0.6"/>
<path d="M422.3,344.1 L422.9,341.70000000000005 L424.9,344.1 Z" fill="#e83a30" opacity="0.6"/>
<path d="M473.20000000000005,344.1 L473.8,341.70000000000005 L476.40000000000003,344.1 Z" fill="#e83a30" opacity="0.6"/>
<text x="383.8" y="242.3" font-family="Liberation Sans" font-size="6.6" font-weight="normal" font-style="normal" fill="#2a2a2a" text-anchor="start" textLength="17.8" lengthAdjust="spacingAndGlyphs" stroke="#2a2a2a" stroke-width="0.06" >532.44</text>
<text x="413.4" y="294.1" font-family="Liberation Sans" font-size="6.6" font-weight="normal" font-style="normal" fill="#2a2a2a" text-anchor="start" textLength="17.6" lengthAdjust="spacingAndGlyphs" stroke="#2a2a2a" stroke-width="0.06" >665.10</text>
<text x="463.9" y="330.7" font-family="Liberation Sans" font-size="6.6" font-weight="normal" font-style="normal" fill="#2a2a2a" text-anchor="start" textLength="17.0" lengthAdjust="spacingAndGlyphs" stroke="#2a2a2a" stroke-width="0.06" >886.50</text>
</svg>
</body></html>
